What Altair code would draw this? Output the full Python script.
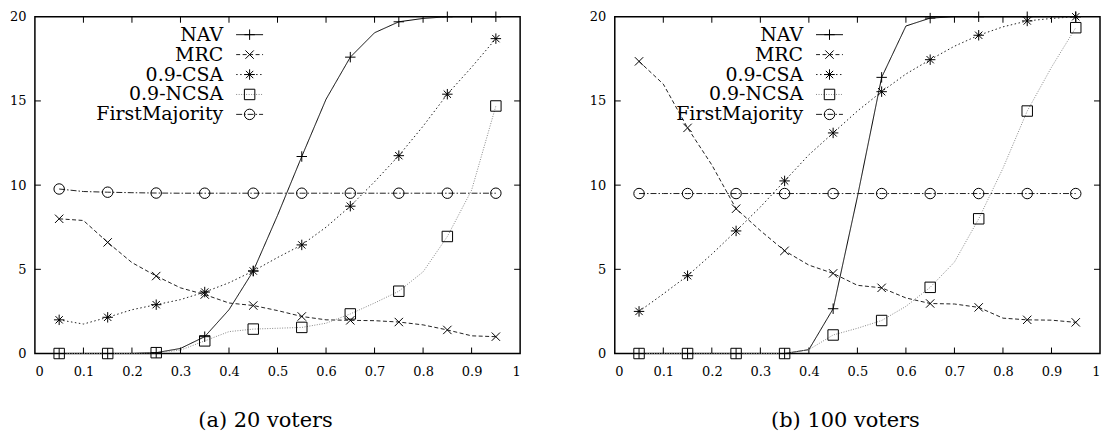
import altair as alt
import pandas as pd

# ---------------- data ----------------
x_vals = [0.05, 0.10, 0.15, 0.20, 0.25, 0.30, 0.35, 0.40, 0.45, 0.50,
          0.55, 0.60, 0.65, 0.70, 0.75, 0.80, 0.85, 0.90, 0.95]

series_names = ["NAV", "MRC", "0.9-CSA", "0.9-NCSA", "FirstMajority"]

# (a) 20 voters
a_nav = [0, 0, 0, 0, 0.05, 0.3, 1.0, 2.6, 4.9, 8.2, 11.7, 15.1, 17.6, 19.05, 19.7, 19.9, 20, 20, 20]
a_mrc = [8.0, 7.9, 6.6, 5.4, 4.6, 3.9, 3.5, 3.0, 2.85, 2.55, 2.2, 2.0, 1.97, 1.95, 1.87, 1.7, 1.4, 1.05, 1.0]
a_csa = [2.0, 1.75, 2.15, 2.6, 2.9, 3.2, 3.65, 4.2, 4.9, 5.7, 6.45, 7.5, 8.75, 10.2, 11.75, 13.5, 15.4, 17.0, 18.7]
a_ncsa = [0, 0, 0, 0, 0.05, 0.2, 0.75, 1.3, 1.45, 1.5, 1.55, 1.8, 2.35, 3.0, 3.7, 4.85, 6.95, 9.7, 14.7]
a_fm = [9.77, 9.62, 9.58, 9.55, 9.53, 9.52, 9.52, 9.52, 9.52, 9.52, 9.52, 9.52, 9.52, 9.52, 9.52, 9.52, 9.52, 9.52, 9.52]

# (b) 100 voters
b_nav = [0, 0, 0, 0, 0, 0, 0, 0.23, 2.66, 9.3, 16.4, 19.45, 19.92, 20, 20, 20, 20, 20, 20]
b_mrc = [17.35, 16.0, 13.4, 11.2, 8.6, 7.3, 6.1, 5.25, 4.76, 4.05, 3.9, 3.3, 2.97, 2.94, 2.74, 2.1, 2.0, 1.98, 1.85]
b_csa = [2.5, 3.54, 4.62, 5.9, 7.28, 8.7, 10.25, 11.8, 13.1, 14.4, 15.55, 16.6, 17.45, 18.25, 18.9, 19.4, 19.75, 19.9, 20.0]
b_ncsa = [0, 0, 0, 0, 0, 0, 0, 0.23, 1.1, 1.5, 1.96, 2.8, 3.93, 5.43, 8.0, 11.0, 14.4, 17.0, 19.35]
b_fm = [9.5] * 19

panel_titles = ["(a) 20 voters", "(b) 100 voters"]
x_tick_values = [0, 0.1, 0.2, 0.3, 0.4, 0.5, 0.6, 0.7, 0.8, 0.9, 1.0]
y_tick_values = [0, 5, 10, 15, 20]

# ---------------- styles ----------------
FONT = "DejaVu Serif"
W, H = 487, 338
dash_range = [[1, 0], [4, 2.5], [1.5, 2.5], [1, 1.5], [6, 2, 1.5, 2]]
color_range = ["black", "#222222", "#222222", "#888888", "#222222"]
shape_range = [
    "M-1,0L1,0M0,-1L0,1",                                   # +
    "M-0.8,-0.8L0.8,0.8M-0.8,0.8L0.8,-0.8",                 # x
    "M-1,0L1,0M0,-1L0,1M-0.7,-0.7L0.7,0.7M-0.7,0.7L0.7,-0.7",  # asterisk
    "square",
    "circle",
]
size_range = [110, 110, 100, 100, 80]

dash_scale = alt.Scale(domain=series_names, range=dash_range)
color_scale = alt.Scale(domain=series_names, range=color_range)
shape_scale = alt.Scale(domain=series_names, range=shape_range)
size_scale = alt.Scale(domain=series_names, range=size_range)


def make_df(lists):
    rows = []
    for name, ys in zip(series_names, lists):
        for i, (xv, yv) in enumerate(zip(x_vals, ys)):
            rows.append({"series": name, "x": xv, "y": yv, "marker": i % 2 == 0})
    return pd.DataFrame(rows)


def panel(lists, title):
    df = make_df(lists)
    xs = alt.Scale(domain=[0, 1], nice=False, zero=False)
    ys = alt.Scale(domain=[0, 20], nice=False)
    base = alt.Chart(df)
    lines = base.mark_line(strokeWidth=1).encode(
        x=alt.X("x:Q", scale=xs,
                axis=alt.Axis(values=x_tick_values, format="~g", title=title,
                              titleX=231, titleAlign="center", titlePadding=31,
                              labelPadding=12)),
        y=alt.Y("y:Q", scale=ys,
                axis=alt.Axis(values=y_tick_values, title=None, labelPadding=9)),
        strokeDash=alt.StrokeDash("series:N", scale=dash_scale, legend=None),
        color=alt.Color("series:N", scale=color_scale, legend=None),
        detail="series:N",
    )
    points = base.transform_filter("datum.marker").mark_point(
        filled=False, strokeWidth=1, color="black", opacity=1
    ).encode(
        x="x:Q", y="y:Q",
        shape=alt.Shape("series:N", scale=shape_scale, legend=None),
        size=alt.Size("series:N", scale=size_scale, legend=None),
    )
    # manual gnuplot-style legend
    leg = pd.DataFrame({"series": series_names, "row": list(range(len(series_names)))})
    legb = alt.Chart(leg).transform_calculate(ly="18 + datum.row * 20")
    leg_text = legb.mark_text(align="right", baseline="middle", font=FONT, fontSize=19,
                              color="black").encode(
        x=alt.value(189), y=alt.Y("ly:Q", scale=None), text="series:N")
    leg_line = legb.mark_rule(strokeWidth=1).encode(
        x=alt.value(202), x2=alt.value(229), y=alt.Y("ly:Q", scale=None),
        strokeDash=alt.StrokeDash("series:N", scale=dash_scale, legend=None),
        color=alt.Color("series:N", scale=color_scale, legend=None))
    leg_pt = legb.mark_point(filled=False, strokeWidth=1, color="black", opacity=1).encode(
        x=alt.value(215.5), y=alt.Y("ly:Q", scale=None),
        shape=alt.Shape("series:N", scale=shape_scale, legend=None),
        size=alt.Size("series:N", scale=size_scale, legend=None))
    # inward ticks (gnuplot style)
    xt = alt.Chart(pd.DataFrame({"t": x_tick_values[1:-1]}))
    yt = alt.Chart(pd.DataFrame({"t": y_tick_values[1:-1]}))
    tb = xt.mark_rule(color="black", strokeWidth=1).encode(x="t:Q", y=alt.value(H), y2=alt.value(H - 6))
    tt = xt.mark_rule(color="black", strokeWidth=1).encode(x="t:Q", y=alt.value(0), y2=alt.value(6))
    tl = yt.mark_rule(color="black", strokeWidth=1).encode(y="t:Q", x=alt.value(0), x2=alt.value(6))
    tr = yt.mark_rule(color="black", strokeWidth=1).encode(y="t:Q", x=alt.value(W), x2=alt.value(W - 6))
    return alt.layer(tb, tt, tl, tr, lines, points, leg_line, leg_pt, leg_text).properties(
        width=W, height=H)


left = panel([a_nav, a_mrc, a_csa, a_ncsa, a_fm], panel_titles[0])
right = panel([b_nav, b_mrc, b_csa, b_ncsa, b_fm], panel_titles[1])

chart = alt.hconcat(left, right, spacing=66).properties(
    padding={"left": 0, "top": 0, "right": 0, "bottom": 0}
).configure_view(stroke="black", strokeWidth=1.5).configure_axis(
    domain=False, grid=False, ticks=False, labelFont=FONT, labelFontSize=13,
    labelColor="black", titleFont=FONT, titleFontSize=21, titleFontWeight="normal",
    titleColor="black"
)

chart.save("out.html", embed_options={"renderer": "svg", "actions": False})
